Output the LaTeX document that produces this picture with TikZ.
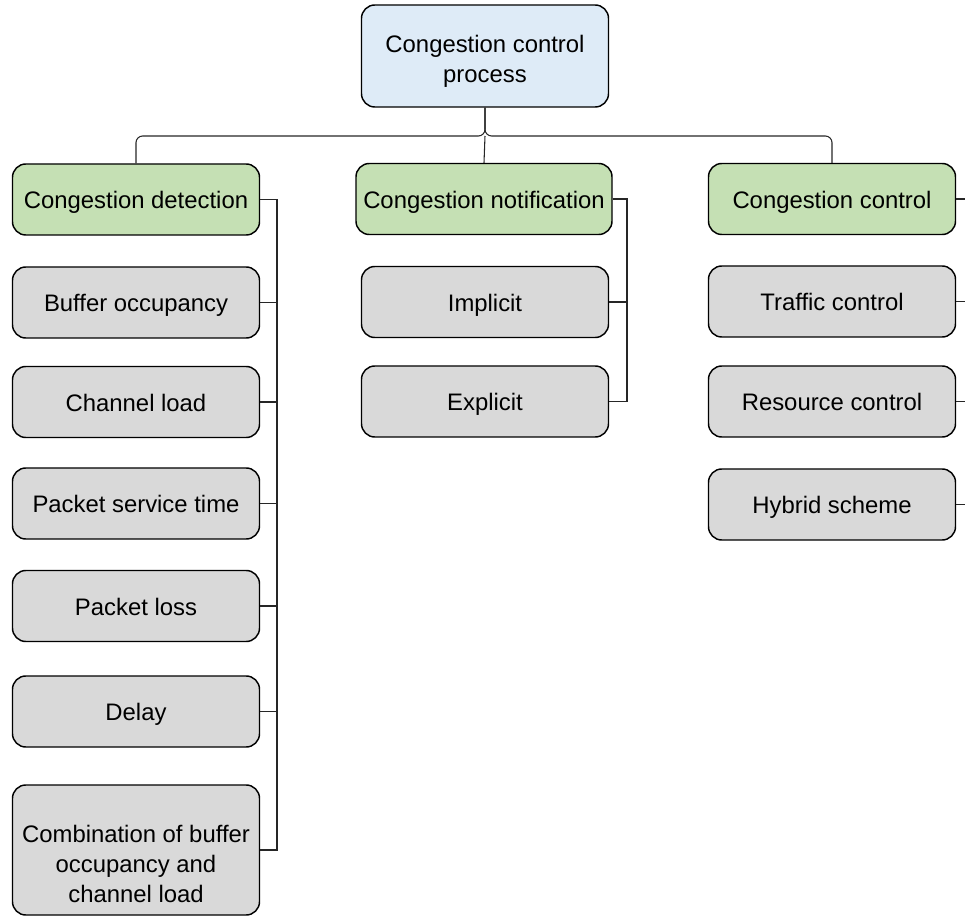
\documentclass[tikz,border=0pt]{standalone}
\usepackage{fontspec}
\setmainfont{Liberation Sans}
\usetikzlibrary{positioning}

\definecolor{rootblue}{RGB}{222,235,247}
\definecolor{stagegreen}{RGB}{197,224,180}
\definecolor{itemgray}{RGB}{217,217,217}

\begin{document}
\begin{tikzpicture}[x=0.75pt,y=0.75pt,yscale=-1,xscale=1,
  box/.style={draw=black,line width=1.1pt,rounded corners=10pt,align=center,inner sep=0pt,
    minimum width=185.25pt,minimum height=53.25pt,font=\fontsize{17.9}{22.5}\selectfont},
  oneline/.style={text height=15pt,text depth=1.2pt},
  rootbox/.style={box,fill=rootblue,minimum height=76.5pt},
  stagebox/.style={box,oneline,fill=stagegreen},
  itembox/.style={box,oneline,fill=itemgray},
  bigbox/.style={box,fill=itemgray,minimum height=97.5pt},
  wire/.style={draw=black!85,line width=0.8pt}]
%set diagram left start at 0, and has height of 916
\clip (0,0) rectangle (965,916);

%Shape: Root
\node[rootbox] (root) at (485,56) {\rule{0pt}{20.6pt}Congestion control\\process};

%Shape: Stages
\node[stagebox] (detect) at (136,199.5) {Congestion detection};
\node[stagebox,minimum width=192pt] (notify) at (484,199) {Congestion notification};
\node[stagebox] (control) at (832,199) {Congestion control};

%Shape: Detection items
\node[itembox] (buffer) at (136,302.5) {Buffer occupancy};
\node[itembox] (chload) at (136,402) {Channel load};
\node[itembox] (service) at (136,503.5) {Packet service time};
\node[itembox] (loss) at (136,606) {Packet loss};
\node[itembox] (delay) at (136,711.5) {Delay};
\node[bigbox] (combo) at (136,850) {\rule{0pt}{34pt}Combination of buffer\\occupancy and\\channel load};

%Shape: Notification items
\node[itembox] (implicit) at (485,302) {Implicit};
\node[itembox] (explicit) at (485,401.5) {Explicit};

%Shape: Control items
\node[itembox] (traffic) at (832,301.5) {Traffic control};
\node[itembox] (resource) at (832,401.5) {Resource control};
\node[itembox] (hybrid) at (832,504.5) {Hybrid scheme};

%Straight Lines: tree from root
\coordinate (split) at (485,136);
\draw[wire,rounded corners=5pt] (root.south) -- (split) -| (detect.north);
\draw[wire,rounded corners=5pt] (root.south) -- (split) -| (control.north);
\draw[wire] (split) -- (notify.north);

%Straight Lines: brackets
\coordinate (lbus) at (277,0);
\coordinate (mbus) at (627,0);
\coordinate (rbus) at (975,0);
\draw[wire] (detect.east) -- (detect.east -| lbus) |- (combo.east);
\foreach \n in {buffer,chload,service,loss,delay}
  \draw[wire] (\n.east) -- (\n.east -| lbus);
\draw[wire] (notify.east) -- (notify.east -| mbus) |- (explicit.east);
\draw[wire] (implicit.east) -- (implicit.east -| mbus);
\draw[wire] (control.east) -- (control.east -| rbus) |- (hybrid.east);
\foreach \n in {traffic,resource}
  \draw[wire] (\n.east) -- (\n.east -| rbus);

\end{tikzpicture}
\end{document}
